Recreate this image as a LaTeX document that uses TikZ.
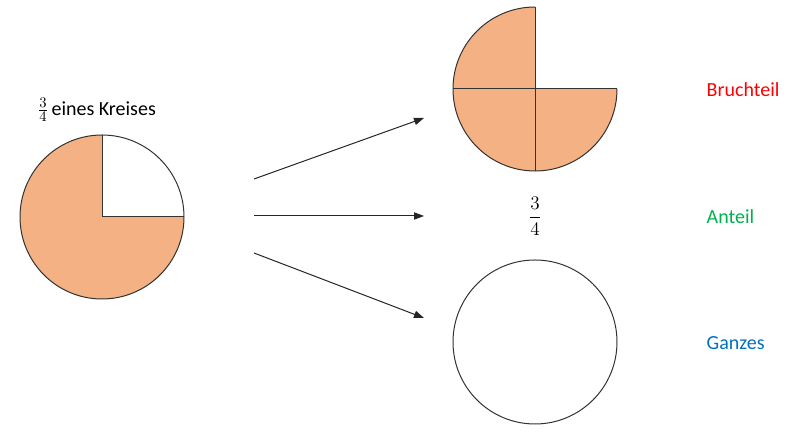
\documentclass[tikz,border=0pt]{standalone}
\usepackage{fontspec}
\setmainfont{Carlito}
\usepackage{amsmath}
\usetikzlibrary{positioning}
\usetikzlibrary{arrows.meta,calc}

\definecolor{pieorange}{HTML}{F4B183}
\definecolor{partred}{HTML}{FF0000}
\definecolor{partgreen}{HTML}{00B050}
\definecolor{partblue}{HTML}{0070C0}

\tikzset{
    rim/.style={draw=black!80,line width=0.75pt},
    piece/.style={fill=pieorange},
    pointer/.style={draw=black!85,line width=0.75pt,-{Triangle[length=7.5pt,width=5.5pt]}},
    term/.style={anchor=west,font=\fontsize{15}{18}\selectfont}
}

\begin{document}
\begin{tikzpicture}[x=0.75pt,y=0.75pt]
    % Parameters
    \pgfmathsetmacro{\radius}{82}
    \useasboundingbox (0,0) rectangle (800,434);

    \coordinate (whole) at (102,217);
    \coordinate (parts) at (535,345);
    \coordinate (empty) at (535,92);

    % Left: 3/4 of a circle
    \fill[piece] (whole) -- ++(0:\radius) arc[start angle=0,end angle=-270,radius=\radius] -- cycle;
    \draw[rim] (whole) circle[radius=\radius];
    \draw[rim] ($(whole)+(0,\radius)$) -- (whole) -- ($(whole)+(\radius,0)$);
    \node[anchor=west,font=\fontsize{15}{18}\selectfont] (caption) at (33,324) {$\frac{3}{4}$\,eines Kreises};

    % Right top: three quarters
    \fill[piece] (parts) -- ++(90:\radius) arc[start angle=90,end angle=360,radius=\radius] -- cycle;
    \draw[rim] ($(parts)+(\radius,0)$) -- ($(parts)+(-\radius,0)$);
    \draw[rim] ($(parts)+(0,\radius)$) -- ($(parts)+(0,-\radius)$);
    \draw[rim] ($(parts)+(0,\radius)$) arc[start angle=90,end angle=360,radius=\radius];

    % Right middle: fraction, right bottom: whole circle
    \node[font=\fontsize{15}{18}\selectfont] (share) at (535,218) {$\dfrac{3}{4}$};
    \draw[rim] (empty) circle[radius=\radius];

    % Arrows
    \coordinate (from1) at (254,255);
    \coordinate (from2) at (254,218);
    \coordinate (from3) at (254,181);
    \coordinate (to1) at (424,316);
    \coordinate (to2) at (424,218);
    \coordinate (to3) at (424,116);
    \draw[pointer] (from1) -- (to1);
    \draw[pointer] (from2) -- (to2);
    \draw[pointer] (from3) -- (to3);

    % Labels
    \node[term,text=partred] (bruchteil) at (702,344) {Bruchteil};
    \node[term,text=partgreen] (anteil) at (702,217) {Anteil};
    \node[term,text=partblue] (ganzes) at (702,91) {Ganzes};
\end{tikzpicture}
\end{document}
